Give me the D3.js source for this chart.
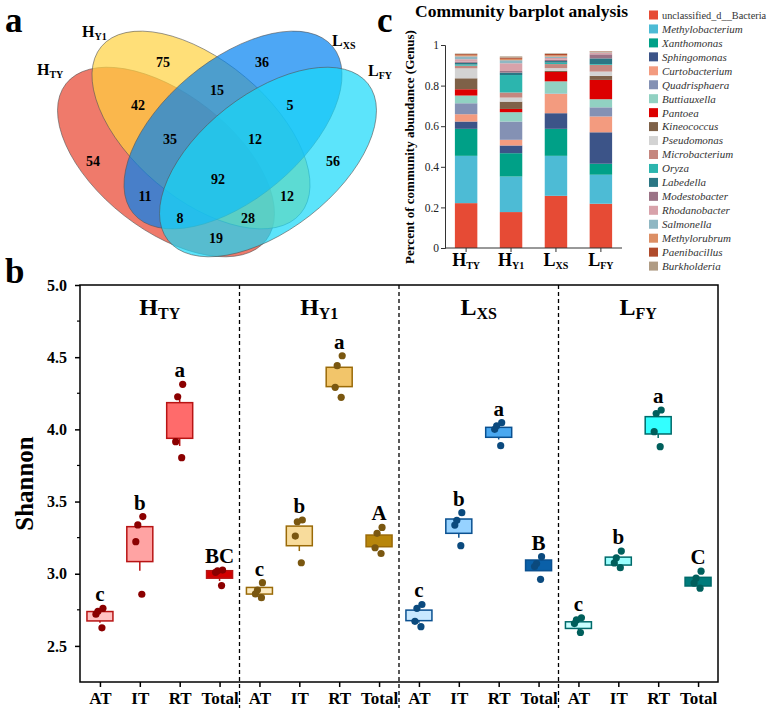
<!DOCTYPE html>
<html>
<head>
<meta charset="utf-8">
<script src="https://cdn.jsdelivr.net/npm/d3@7"></script>
<style>
    body { margin: 0; background: #fff; }
    svg { display: block; font-family: "Liberation Serif", "Times New Roman", serif; }
</style>
</head>
<body>
<div id="chart"></div>
<script>
// ---------- data ----------
// venn (a)
const vennSets = [
    {main: "H", sub: "TY"},
    {main: "H", sub: "Y1"},
    {main: "L", sub: "XS"},
    {main: "L", sub: "FY"}
];
const vennRegions = ["A", "B", "C", "D", "AB", "BC", "CD", "ABC", "BCD", "ABCD", "AC", "BD", "ACD", "ABD", "AD"];
const vennCounts = [54, 75, 36, 56, 42, 15, 5, 35, 12, 92, 11, 12, 8, 28, 19];

// barplot (c)
const samples = [
    {main: "H", sub: "TY"},
    {main: "H", sub: "Y1"},
    {main: "L", sub: "XS"},
    {main: "L", sub: "FY"}
];
const genera = ["unclassified_d__Bacteria", "Methylobacterium", "Xanthomonas", "Sphingomonas", "Curtobacterium",
    "Quadrisphaera", "Buttiauxella", "Pantoea", "Kineococcus", "Pseudomonas", "Microbacterium", "Oryza",
    "Labedella", "Modestobacter", "Rhodanobacter", "Salmonella", "Methylorubrum", "Paenibacillus", "Burkholderia"];
const htyAbund = [0.221, 0.233, 0.133, 0.036, 0.036, 0.054, 0.038, 0.031, 0.054, 0.049, 0.013, 0.006, 0.008, 0.006, 0.012, 0.014, 0.006, 0.005, 0.003];
const hy1Abund = [0.177, 0.175, 0.115, 0.038, 0.028, 0.090, 0.046, 0.016, 0.036, 0.020, 0.025, 0.086, 0.012, 0.008, 0.038, 0.015, 0.007, 0.006, 0.006];
const lxsAbund = [0.257, 0.197, 0.133, 0.077, 0.095, 0.002, 0.060, 0.046, 0.006, 0.013, 0.020, 0.007, 0.008, 0.006, 0.009, 0.007, 0.006, 0.007, 0.003];
const lfyAbund = [0.218, 0.143, 0.054, 0.155, 0.078, 0.045, 0.040, 0.095, 0.020, 0.021, 0.033, 0.004, 0.028, 0.020, 0.007, 0.003, 0.002, 0.002, 0.002];
const barTicks = [0, 0.2, 0.4, 0.6, 0.8, 1];

// shannon boxplot (b)
const sites = [
    {main: "H", sub: "TY"},
    {main: "H", sub: "Y1"},
    {main: "L", sub: "XS"},
    {main: "L", sub: "FY"}
];
const tissues = ["AT", "IT", "RT", "Total"];
const boxQ1 = [2.673, 3.084, 3.938, 2.969, 2.859, 3.194, 4.296, 3.187, 2.675, 3.280, 3.945, 3.021, 2.621, 3.060, 3.968, 2.915];
const boxQ3 = [2.738, 3.326, 4.185, 3.021, 2.905, 3.330, 4.430, 3.268, 2.748, 3.379, 4.014, 3.095, 2.667, 3.115, 4.088, 2.975];
const whiskLow = [2.660, 3.020, 3.885, 2.950, 2.850, 3.157, 4.296, 3.187, 2.660, 3.250, 3.930, 3.021, 2.610, 3.060, 3.940, 2.915];
const whiskHigh = [2.738, 3.326, 4.208, 3.021, 2.905, 3.330, 4.430, 3.268, 2.748, 3.379, 4.014, 3.095, 2.667, 3.115, 4.088, 2.975];
const shannonPoints = [
    [2.760, 2.740, 2.720, 2.625], [3.396, 3.338, 3.222, 2.858], [4.312, 4.226, 3.915, 3.804], [3.025, 3.020, 3.010, 2.918],
    [2.938, 2.887, 2.860, 2.834], [3.372, 3.360, 3.261, 3.076], [4.510, 4.441, 4.291, 4.222], [3.321, 3.280, 3.180, 3.140],
    [2.787, 2.760, 2.670, 2.633], [3.423, 3.370, 3.337, 3.194], [4.046, 4.025, 4.000, 3.887], [3.118, 3.070, 3.050, 2.961],
    [2.695, 2.680, 2.655, 2.593], [3.157, 3.110, 3.075, 3.042], [4.134, 4.110, 3.984, 3.880], [3.018, 2.970, 2.935, 2.900]
];
const sigLetters = ["c", "b", "a", "BC", "c", "b", "a", "A", "c", "b", "a", "B", "c", "b", "a", "C"];
const shannonTicks = [2.5, 3.0, 3.5, 4.0, 4.5, 5.0];
const shannonMinor = [2.75, 3.25, 3.75, 4.25, 4.75];

// ---------- styles ----------
const vennColors = ["#E8412C", "#FFD23E", "#0181F1", "#17D8F9"];
const generaColors = ["#E64B35", "#4DBBD5", "#00A087", "#3C5488", "#F39B7F", "#8491B4", "#91D1C2", "#DC0000",
    "#7E6148", "#D3D3D3", "#C5877F", "#2CB5AE", "#2B7684", "#9B7386", "#D8A2AA", "#8FB7C3", "#DC8F65", "#B04B2C", "#B09C85"];
const siteStyles = [
    {stroke: "#B81414", point: "#8B0000", fills: ["#FFC2C2", "#FFA3A3", "#FF6B6B", "#D40000"]},
    {stroke: "#9A6A08", point: "#7A5710", fills: ["#FCEBC2", "#F8DC9C", "#F2C56A", "#B8860B"]},
    {stroke: "#0A5090", point: "#0B4A7E", fills: ["#C8E8FF", "#96D2FF", "#4AA8F0", "#0A60A8"]},
    {stroke: "#006A6A", point: "#005F5C", fills: ["#C8FFFF", "#9AFFFF", "#33FFFF", "#007B7B"]}
];
const jitter = [3, -2, -4, 2];

const W = 770, H = 709;
const svg = d3.select("#chart").append("svg").attr("width", W).attr("height", H);

function subText(sel, d, size, subSize, drop) {
    sel.append("tspan").text(d.main).style("font-size", size + "px");
    sel.append("tspan").attr("dy", drop).text(d.sub).style("font-size", subSize + "px");
}

function panelLetter(txt, x, y) {
    svg.append("text").attr("x", x).attr("y", y).text(txt)
        .style("font-size", "35px").style("font-weight", "bold");
}

// ---------- (a) venn ----------
function drawVenn() {
    const g = svg.append("g");
    // ellipse geometry in pixels
    const ellipses = [
        {cx: 166, cy: 162, rx: 127, ry: 68, rot: 38},
        {cx: 201, cy: 130, rx: 130, ry: 69, rot: 40},
        {cx: 233, cy: 130, rx: 130, ry: 69, rot: -40},
        {cx: 268, cy: 162, rx: 127, ry: 68, rot: -38}
    ];
    g.selectAll("ellipse").data(ellipses).join("ellipse")
        .attr("cx", 0).attr("cy", 0)
        .attr("rx", d => d.rx).attr("ry", d => d.ry)
        .attr("transform", d => `translate(${d.cx},${d.cy}) rotate(${d.rot})`)
        .attr("fill", (d, i) => vennColors[i])
        .attr("fill-opacity", 0.7)
        .attr("stroke", "#555")
        .attr("stroke-opacity", 0.7)
        .attr("stroke-width", 0.8);

    const regionPos = {
        A: [93, 161], B: [163, 62], C: [262, 62], D: [333, 161],
        AB: [138, 105], BC: [217, 90], CD: [290, 105], ABC: [170, 139], BCD: [255, 139],
        ABCD: [218, 179], AC: [145, 196], BD: [287, 196], ACD: [180, 218], ABD: [248, 218], AD: [216, 238]
    };
    g.selectAll("text.count").data(vennRegions).join("text")
        .attr("class", "count")
        .attr("x", d => regionPos[d][0])
        .attr("y", d => regionPos[d][1])
        .attr("dy", "0.35em")
        .attr("text-anchor", "middle")
        .style("font-size", "14px")
        .style("font-weight", "bold")
        .text((d, i) => vennCounts[i]);

    const labelPos = [[37, 75], [82, 37], [332, 46], [368, 76]];
    vennSets.forEach((s, i) => {
        const t = g.append("text")
            .attr("x", labelPos[i][0]).attr("y", labelPos[i][1])
            .style("font-weight", "bold");
        subText(t, s, 16, 10, 3);
    });
}

// ---------- (c) barplot ----------
function drawBars() {
    const g = svg.append("g");
    const y = d3.scaleLinear().domain([0, 1]).range([248, 45]);
    const x = d3.scaleBand().domain(d3.range(samples.length)).range([445, 622])
        .paddingInner(0.5).paddingOuter(0.22);

    const rows = [htyAbund, hy1Abund, lxsAbund, lfyAbund].map(arr => {
        const r = {};
        genera.forEach((gname, j) => r[gname] = arr[j]);
        return r;
    });
    const series = d3.stack().keys(genera)(rows);

    g.selectAll("g.layer").data(series).join("g")
        .attr("class", "layer")
        .attr("fill", (d, i) => generaColors[i])
        .selectAll("rect").data(d => d).join("rect")
        .attr("x", (d, i) => x(i))
        .attr("width", x.bandwidth())
        .attr("y", d => y(d[1]))
        .attr("height", d => y(d[0]) - y(d[1]));

    const yAxis = d3.axisLeft(y).tickValues(barTicks).tickFormat(d3.format("~g")).tickSize(4).tickPadding(2);
    g.append("g").attr("transform", "translate(445,0)").call(yAxis)
        .attr("font-family", null)
        .call(a => a.selectAll("text").style("font-size", "11.5px").attr("fill", "#222"))
        .call(a => a.selectAll("line, path").attr("stroke", "#333"));

    const xAxis = d3.axisBottom(x).tickSize(4).tickFormat("");
    const xa = g.append("g").attr("transform", "translate(0,248)").call(xAxis);
    xa.selectAll("line, path").attr("stroke", "#333");
    xa.select("path").attr("d", "M445,0H622");
    samples.forEach((s, i) => {
        const t = g.append("text")
            .attr("x", x(i) + x.bandwidth() / 2).attr("y", 266)
            .attr("text-anchor", "middle")
            .style("font-weight", "bold");
        subText(t, s, 18, 10, 3);
    });

    g.append("text")
        .attr("transform", "translate(414,147) rotate(-90)")
        .attr("text-anchor", "middle")
        .style("font-size", "13px").style("font-weight", "bold")
        .text("Percent of community abundance (Genus)");

    g.append("text").attr("x", 415).attr("y", 17)
        .style("font-size", "17.5px").style("font-weight", "bold")
        .text("Community barplot analysis");

    // legend
    const leg = g.selectAll("g.leg").data(genera).join("g")
        .attr("class", "leg")
        .attr("transform", (d, i) => `translate(649,${15 + i * 13.95})`);
    leg.append("rect").attr("x", 0).attr("y", -4.5).attr("width", 9).attr("height", 9)
        .attr("fill", (d, i) => generaColors[i]);
    leg.append("text").attr("x", 13).attr("dy", "0.35em")
        .style("font-size", (d, i) => i === 0 ? "10.3px" : "11px")
        .style("font-style", (d, i) => i === 0 ? "normal" : "italic")
        .attr("fill", "#333")
        .text(d => d);
}

// ---------- (b) shannon boxplot ----------
function drawBoxes() {
    const g = svg.append("g");
    const left = 80, right = 718, top = 285, bottom = 682;
    const keys = [];
    sites.forEach((s, si) => tissues.forEach(t => keys.push(si + "-" + t)));
    const x = d3.scalePoint().domain(keys).range([left, right]).padding(0.5);
    const y = d3.scaleLinear().domain([2.25, 5.0]).range([bottom, top]);
    const panelW = (right - left) / sites.length;
    const boxW = 26;

    // dashed separators
    for (let i = 1; i < sites.length; i++) {
        g.append("line")
            .attr("x1", left + panelW * i).attr("x2", left + panelW * i)
            .attr("y1", top).attr("y2", 708)
            .attr("stroke", "#000").attr("stroke-width", 1.3)
            .attr("stroke-dasharray", "4,3");
    }

    // frame
    g.append("rect").attr("x", left).attr("y", top)
        .attr("width", right - left).attr("height", bottom - top)
        .attr("fill", "none").attr("stroke", "#000").attr("stroke-width", 1.5);

    // axes
    const yAxis = d3.axisLeft(y).tickValues(shannonTicks).tickFormat(d3.format(".1f")).tickSize(5).tickPadding(8);
    const ya = g.append("g").attr("transform", `translate(${left},0)`).call(yAxis).attr("font-family", null);
    ya.select("path").remove();
    ya.selectAll("line").attr("stroke-width", 1.5);
    ya.selectAll("text").style("font-size", "16px").style("font-weight", "bold");
    ya.selectAll("line.minor").data(shannonMinor).join("line")
        .attr("class", "minor").attr("x1", -3).attr("x2", 0)
        .attr("y1", d => y(d)).attr("y2", d => y(d))
        .attr("stroke", "#000").attr("stroke-width", 1.2);

    const xAxis = d3.axisBottom(x).tickSize(5).tickPadding(5).tickFormat(d => d.split("-")[1]);
    const xa = g.append("g").attr("transform", `translate(0,${bottom})`).call(xAxis).attr("font-family", null);
    xa.select("path").remove();
    xa.selectAll("line").attr("stroke-width", 1.5);
    xa.selectAll("text").style("font-size", "17px").style("font-weight", "bold");

    // y title
    g.append("text")
        .attr("transform", `translate(33,${(top + bottom) / 2}) rotate(-90)`)
        .attr("text-anchor", "middle")
        .style("font-size", "25px").style("font-weight", "bold")
        .text("Shannon");

    // site titles
    sites.forEach((s, i) => {
        const t = g.append("text")
            .attr("x", left + panelW * (i + 0.5)).attr("y", 315)
            .attr("text-anchor", "middle")
            .style("font-weight", "bold");
        subText(t, s, 24, 16, 4);
    });

    // boxes
    keys.forEach((k, i) => {
        const si = Math.floor(i / tissues.length), ti = i % tissues.length;
        const st = siteStyles[si];
        const cx = x(k);
        g.append("line")
            .attr("x1", cx).attr("x2", cx)
            .attr("y1", y(whiskLow[i])).attr("y2", y(whiskHigh[i]))
            .attr("stroke", st.stroke).attr("stroke-width", 1.5);
        g.append("rect")
            .attr("x", cx - boxW / 2).attr("width", boxW)
            .attr("y", y(boxQ3[i])).attr("height", y(boxQ1[i]) - y(boxQ3[i]))
            .attr("fill", st.fills[ti]).attr("stroke", st.stroke).attr("stroke-width", 1.5);
        g.selectAll(null).data(shannonPoints[i]).join("circle")
            .attr("cx", (d, j) => cx + jitter[j % jitter.length])
            .attr("cy", d => y(d))
            .attr("r", 3.6)
            .attr("fill", st.point);
        g.append("text")
            .attr("x", cx).attr("y", y(d3.max(shannonPoints[i])) - 7)
            .attr("text-anchor", "middle")
            .style("font-size", "21px").style("font-weight", "bold")
            .text(sigLetters[i]);
    });
}

drawVenn();
drawBars();
drawBoxes();
panelLetter("a", 5, 32);
panelLetter("c", 377, 32);
panelLetter("b", 5, 283);
</script>
</body>
</html>
